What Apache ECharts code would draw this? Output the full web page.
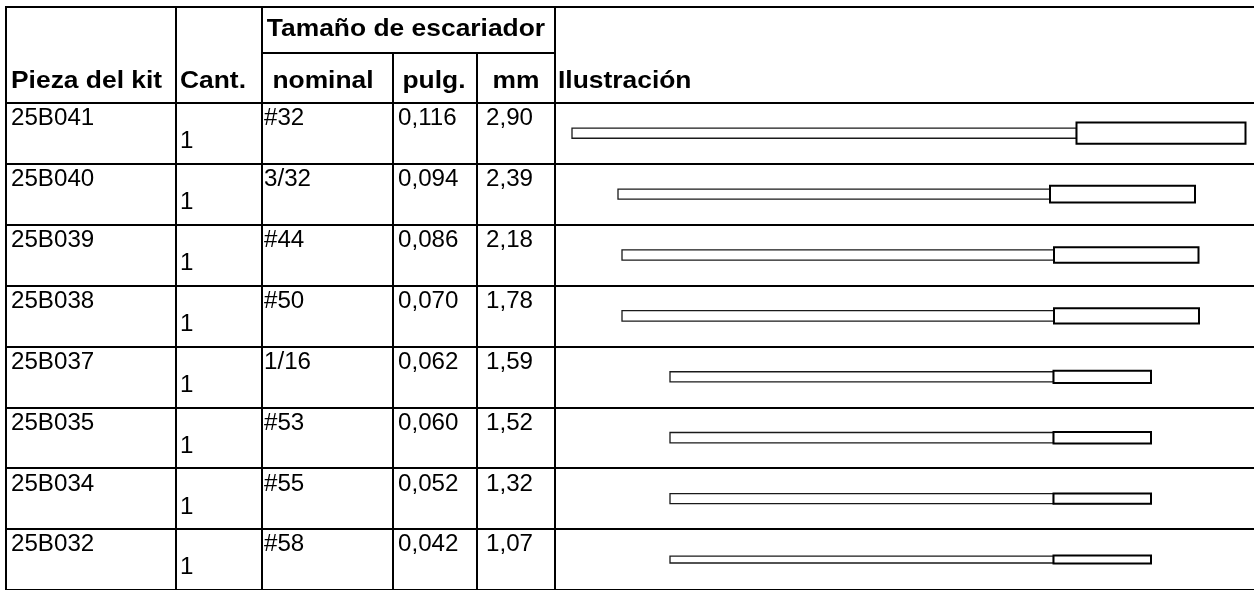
<!DOCTYPE html>
<html>
<head>
<meta charset="utf-8">
<script src="https://cdn.jsdelivr.net/npm/echarts@6/dist/echarts.min.js"></script>
<style>
html,body{margin:0;padding:0;background:#fff;}
#c{width:1254px;height:590px;}
</style>
</head>
<body>
<div id="c"></div>
<script>
// ---------- data ----------
const groupHeader = 'Tamaño de escariador';
const headers = ['Pieza del kit', 'Cant.', 'nominal', 'pulg.', 'mm', 'Ilustración'];
const parts   = ['25B041','25B040','25B039','25B038','25B037','25B035','25B034','25B032'];
const qty     = [1,1,1,1,1,1,1,1];
const nominal = ['#32','3/32','#44','#50','1/16','#53','#55','#58'];
const inches  = ['0,116','0,094','0,086','0,070','0,062','0,060','0,052','0,042'];
const mm      = ['2,90','2,39','2,18','1,78','1,59','1,52','1,32','1,07'];
// illustration (drawing units along the illustration column)
const shankStart = [17, 63, 67, 67, 115, 115, 115, 115];
const fluteStart = [521.5, 495, 499, 499, 498.5, 498.5, 498.5, 498.5];
const fluteEnd   = [690.5, 640, 643.5, 644, 596, 596, 596, 596];
const shankDia   = [10.3, 10, 10.5, 10.5, 10.2, 10.5, 10, 7];
const fluteDia   = [21.3, 17, 15.5, 15.5, 12.3, 11.5, 10.3, 8.2];

// ---------- layout ----------
const FONT = "'Liberation Sans', Arial, Helvetica, sans-serif";
const BOLD = 'bold 24px ' + FONT;
const REG = '23px ' + FONT;
const SXB = 1.1, SXR = 1.05;
const TOP = 7, SUB = 53, HEAD = 102.7, ROWH = 61.43;
const colX = [6, 176, 262, 393, 477, 555];
const W = 1254, H = 590;

const chart = echarts.init(document.getElementById('c'), null, {renderer: 'canvas'});

function txt(text, x, y, font, sx, align) {
  return {
    type: 'text', x: x, y: y, scaleX: sx,
    style: {text: text, font: font, fill: '#000', align: align || 'left', verticalAlign: 'middle',
            textAlign: align || 'left', textVerticalAlign: 'middle'}
  };
}

const graphics = [];
function line(x1, y1, x2, y2) {
  graphics.push({type: 'line', shape: {x1, y1, x2, y2}, style: {stroke: '#000', lineWidth: 2}, z: 10});
}
line(colX[0] - 1, TOP, W, TOP);
line(colX[2], SUB, colX[5], SUB);
[0, 1, 2, 5].forEach(i => line(colX[i], TOP - 1, colX[i], H));
[3, 4].forEach(i => line(colX[i], SUB, colX[i], H));
graphics.push(txt(groupHeader, 406, 29, BOLD, SXB, 'center'));
graphics.push(txt(headers[0], 11, 81, BOLD, SXB, 'left'));
graphics.push(txt(headers[1], 180, 81, BOLD, SXB, 'left'));
graphics.push(txt(headers[2], 323, 81, BOLD, SXB, 'center'));
graphics.push(txt(headers[3], 434, 81, BOLD, SXB, 'center'));
graphics.push(txt(headers[4], 516, 81, BOLD, SXB, 'center'));
graphics.push(txt(headers[5], 558, 81, BOLD, SXB, 'left'));

const gridH = ROWH * parts.length;

const option = {
  animation: false,
  backgroundColor: '#fff',
  grid: [
    {left: colX[0], right: 0, top: HEAD, height: gridH, containLabel: false},
    {left: colX[5], right: 0, top: HEAD, height: gridH, containLabel: false}
  ],
  xAxis: [
    {gridIndex: 0, type: 'value', min: 0, max: 1, show: false},
    {gridIndex: 1, type: 'value', min: 0, max: 699, show: false}
  ],
  yAxis: [
    {gridIndex: 0, type: 'category', data: parts, inverse: true,
     axisLine: {show: false}, axisTick: {show: false, interval: 0}, axisLabel: {show: false, interval: 0},
     splitLine: {show: true, interval: 0, lineStyle: {color: '#000', width: 2}}},
    {gridIndex: 1, type: 'category', data: parts, inverse: true, show: false}
  ],
  graphic: graphics,
  series: [
    {
      type: 'custom', xAxisIndex: 0, yAxisIndex: 0,
      data: parts.map((p, i) => [0, i]),
      renderItem: function (params, api) {
        const i = api.value(1);
        const cy = api.coord([0, i])[1];
        const band = api.size([0, 1])[1];
        const top = cy - band / 2;
        const yTop = top + 16;
        return {
          type: 'group',
          children: [
            txt(parts[i], 11, yTop, REG, SXR, 'left'),
            txt(String(qty[i]), 180, top + 39, REG, SXR, 'left'),
            txt(nominal[i], 264, yTop, REG, SXR, 'left'),
            txt(inches[i], 398, yTop, REG, SXR, 'left'),
            txt(mm[i], 486, yTop, REG, SXR, 'left')
          ]
        };
      }
    },
    {
      type: 'custom', xAxisIndex: 1, yAxisIndex: 1,
      data: parts.map((p, i) => [shankStart[i], i, fluteStart[i], fluteEnd[i], shankDia[i], fluteDia[i]]),
      encode: {x: [0, 2, 3], y: 1},
      renderItem: function (params, api) {
        const i = api.value(1);
        const p0 = api.coord([api.value(0), i]);
        const p1 = api.coord([api.value(2), i]);
        const p2 = api.coord([api.value(3), i]);
        const band = api.size([0, 1])[1];
        const k = band / ROWH;
        const hs = api.value(4) * k, hf = api.value(5) * k;
        const cy = p0[1];
        return {
          type: 'group',
          children: [
            {type: 'rect', shape: {x: p0[0], y: cy - hs / 2, width: p1[0] - p0[0], height: hs},
             style: {fill: '#fff', stroke: '#1a1a1a', lineWidth: 1.3}},
            {type: 'rect', shape: {x: p1[0], y: cy - hf / 2, width: p2[0] - p1[0], height: hf},
             style: {fill: '#fff', stroke: '#000', lineWidth: 2}}
          ]
        };
      }
    }
  ]
};
chart.setOption(option);
</script>
</body>
</html>
